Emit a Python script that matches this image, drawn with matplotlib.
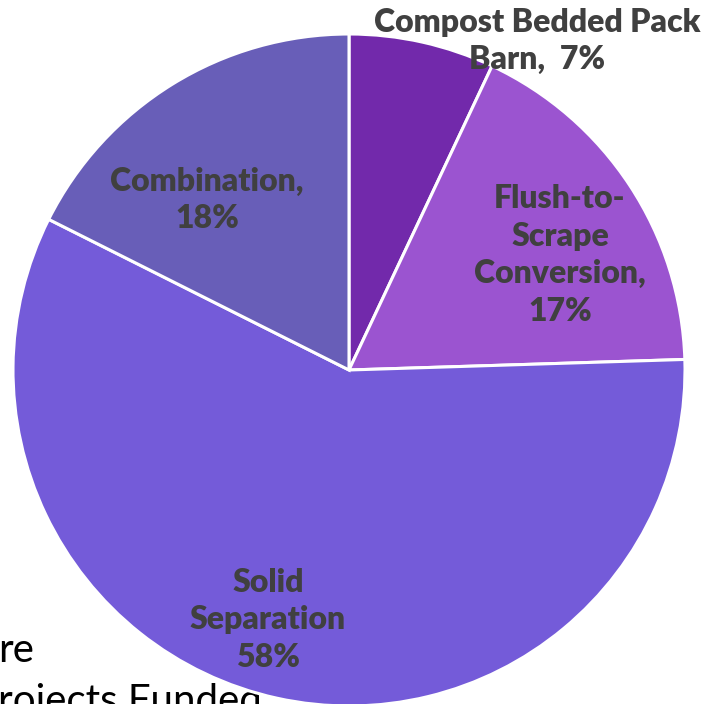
import matplotlib
matplotlib.use("Agg")
import matplotlib.pyplot as plt

categories = ["Compost Bedded Pack Barn", "Flush-to-Scrape Conversion", "Solid Separation", "Combination"]
values = [7.0, 17.5, 57.9, 17.6]
label_texts = ["Compost Bedded Pack\nBarn,  7%", "Flush-to-\nScrape\nConversion,\n17%", "Solid\nSeparation\n58%", "Combination,\n18%"]
colors = ["#7229AB", "#9B54D0", "#745BD9", "#685EB8"]

W, H = 713, 704
fig = plt.figure(figsize=(W / 100, H / 100), dpi=100)
ax = fig.add_axes([0, 0, 1, 1])

cx, cy, r = 349, H - 370, 336

# background slide text (partially covered by the pie)
ax.text(-2, H - 650, "re", fontsize=29, family="Lato", color="black", ha="left", va="center", zorder=0)
ax.text(-2, H - 702, "rojects Funded", fontsize=29, family="Lato", color="black", ha="left", va="center", zorder=0)

wedges, _ = ax.pie(values, colors=colors, startangle=90, counterclock=False,
                   center=(cx, cy), radius=r, frame=True,
                   wedgeprops=dict(edgecolor="white", linewidth=2.2))
for w in wedges:
    w.set_zorder(2)
ax.set_xlim(0, W)
ax.set_ylim(0, H)
ax.set_aspect("equal")
ax.axis("off")

label_pos = [(537, 41), (560, 255), (268, 620), (207, 200)]
for (x, y), t in zip(label_pos, label_texts):
    ax.text(x, H - y, t, fontsize=23, family="Lato", fontweight="heavy", color="#404040",
            ha="center", va="center", linespacing=1.36, zorder=5)

fig.savefig("out.png", dpi=100)
